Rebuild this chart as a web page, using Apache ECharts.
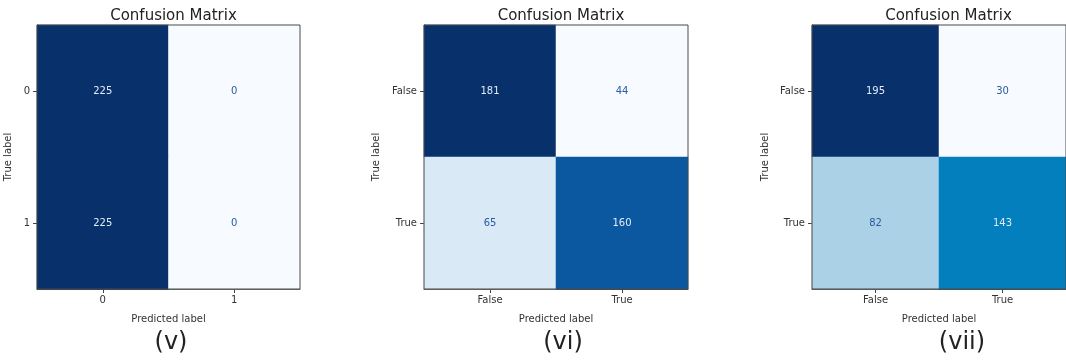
<!DOCTYPE html>
<html>
<head>
<meta charset="utf-8">
<script src="https://cdn.jsdelivr.net/npm/echarts@6/dist/echarts.min.js"></script>
<style>
html,body{margin:0;padding:0;background:#fff;}
#chart{width:1066px;height:360px;}
</style>
</head>
<body>
<div id="chart"></div>
<script>
// ---- data ----
const chartTitle = 'Confusion Matrix';
const xAxisName = 'Predicted label';
const yAxisName = 'True label';
const captions = ['(v)', '(vi)', '(vii)'];
const labelsV = ['0', '1'];
const labelsBool = ['False', 'True'];
// rows = true label, cols = predicted label
const matrixV = [[225, 0], [225, 0]];
const matrixVI = [[181, 44], [65, 160]];
const matrixVII = [[195, 30], [82, 143]];

// ---- styling / layout ----
const FONT = 'DejaVu Sans';
const panels = [
  { labels: labelsV, matrix: matrixV, left: 37, width: 263, yNameGap: 24, cap: 166,
    colors: ['#f7fbff', '#08306b'] },
  { labels: labelsBool, matrix: matrixVI, left: 424, width: 264, yNameGap: 43, cap: 558,
    colors: ['#f7fbff', '#d6e7f5', '#a9cfe5', '#6aaed6', '#3282be', '#0b5aa5', '#08306b'] },
  { labels: labelsBool, matrix: matrixVII, left: 812, width: 263, yNameGap: 42, cap: 957,
    colors: ['#f7fbff', '#a6cfe5', '#0484c3', '#08306b'] }
];
const gridTop = 25, gridHeight = 264;

const grids = [], xAxes = [], yAxes = [], series = [], visualMaps = [], titles = [];
panels.forEach((p, i) => {
  const flat = p.matrix.flat();
  const mn = Math.min(...flat), mx = Math.max(...flat);
  const mid = (mn + mx) / 2;
  grids.push({ left: p.left, top: gridTop, width: p.width, height: gridHeight, z: 5,
    show: true, borderColor: '#4a4a4a', borderWidth: 1, backgroundColor: 'transparent' });
  xAxes.push({ type: 'category', gridIndex: i, data: p.labels,
    name: xAxisName, nameLocation: 'middle', nameGap: 25,
    nameTextStyle: { fontFamily: FONT, fontSize: 10, color: '#333' },
    axisLine: { show: true, lineStyle: { color: '#4a4a4a', width: 1 } },
    axisTick: { show: true, alignWithLabel: true, length: 4, lineStyle: { color: '#444' } },
    axisLabel: { fontFamily: FONT, fontSize: 10, color: '#333', margin: 6 },
    splitLine: { show: false } });
  yAxes.push({ type: 'category', gridIndex: i, data: p.labels, inverse: true,
    name: yAxisName, nameLocation: 'middle', nameGap: p.yNameGap, nameRotate: 90,
    nameTextStyle: { fontFamily: FONT, fontSize: 10, color: '#333' },
    axisLine: { show: true, lineStyle: { color: '#4a4a4a', width: 1 } },
    axisTick: { show: true, alignWithLabel: true, length: 4, lineStyle: { color: '#444' } },
    axisLabel: { fontFamily: FONT, fontSize: 10, color: '#333', margin: 7 },
    splitLine: { show: false } });
  const data = [];
  p.matrix.forEach((row, r) => row.forEach((v, c) => {
    data.push({ value: [c, r, v],
      label: { color: v >= mid ? '#e2ebf6' : '#2b5c9e' } });
  }));
  series.push({ type: 'heatmap', xAxisIndex: i, yAxisIndex: i, data: data,
    label: { show: true, fontFamily: FONT, fontSize: 10,
      formatter: (pp) => String(pp.value[2]) },
    itemStyle: { borderWidth: 0 },
    emphasis: { disabled: true } });
  visualMaps.push({ show: false, type: 'continuous', seriesIndex: i, dimension: 2,
    min: mn, max: mx, inRange: { color: p.colors } });
  titles.push({ text: chartTitle, left: p.left + p.width / 2, top: 4, textAlign: 'center',
    textStyle: { fontFamily: FONT, fontSize: 15, fontWeight: 'normal', color: '#222' } });
  titles.push({ text: captions[i], left: p.cap, top: 326, textAlign: 'center',
    textStyle: { fontFamily: FONT, fontSize: 24, fontWeight: 'normal', color: '#222' } });
});

const chart = echarts.init(document.getElementById('chart'), null, { renderer: 'canvas' });
chart.setOption({
  animation: false,
  backgroundColor: '#fff',
  title: titles,
  grid: grids,
  xAxis: xAxes,
  yAxis: yAxes,
  visualMap: visualMaps,
  series: series
});
</script>
</body>
</html>
